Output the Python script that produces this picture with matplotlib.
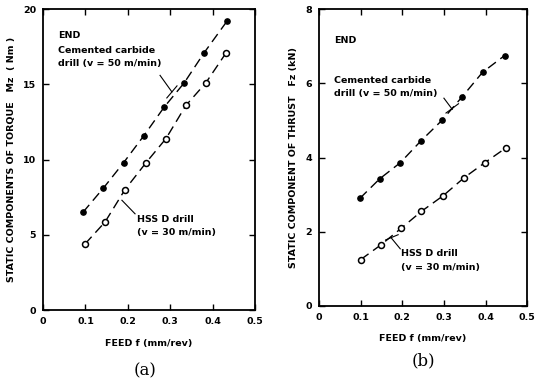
import matplotlib.pyplot as plt

# torque data (a)
feed_cc_a = [0.094, 0.142, 0.19, 0.238, 0.286, 0.333, 0.38, 0.434]
torque_cc = [6.5, 8.1, 9.8, 11.6, 13.5, 15.1, 17.1, 19.2]
feed_hss_a = [0.099, 0.146, 0.193, 0.243, 0.29, 0.337, 0.384, 0.432]
torque_hss = [4.4, 5.85, 8.0, 9.8, 11.4, 13.6, 15.1, 17.1]

# thrust data (b)
feed_cc_b = [0.098, 0.146, 0.195, 0.244, 0.295, 0.344, 0.393, 0.446]
thrust_cc = [2.9, 3.43, 3.86, 4.44, 5.0, 5.64, 6.3, 6.75]
feed_hss_b = [0.1, 0.149, 0.198, 0.246, 0.298, 0.349, 0.398, 0.449]
thrust_hss = [1.25, 1.65, 2.1, 2.55, 2.97, 3.46, 3.86, 4.26]

xticks = [0, 0.1, 0.2, 0.3, 0.4, 0.5]
xticklabels = ['0', '0.1', '0.2', '0.3', '0.4', '0.5']

fs = 6.8
fw = 'bold'

fig = plt.figure(figsize=(5.39, 3.81), dpi=100)
ax1 = fig.add_axes([0.080, 0.186, 0.393, 0.790])
ax2 = fig.add_axes([0.592, 0.197, 0.386, 0.779])

dash = (0, (7, 4))

def style(ax, ymax, yticks):
    ax.set_xlim(0, 0.5)
    ax.set_ylim(0, ymax)
    ax.set_xticks(xticks)
    ax.set_xticklabels(xticklabels)
    ax.set_yticks(yticks)
    ax.tick_params(direction='in', top=True, right=True, length=4.5, width=1,
                   labelsize=fs, pad=5)
    for lab in ax.get_xticklabels() + ax.get_yticklabels():
        lab.set_fontweight(fw)
    for s in ax.spines.values():
        s.set_linewidth(1.3)
    ax.set_xlabel('FEED f (mm/rev)', fontsize=fs, fontweight=fw, labelpad=9)

# (a)
ax1.plot(feed_cc_a, torque_cc, color='black', ls=dash, lw=1, marker='o', ms=3.8,
         mfc='black', mec='black')
ax1.plot(feed_hss_a, torque_hss, color='black', ls=dash, lw=1, marker='o', ms=4.3,
         mfc='white', mec='black', mew=1.1)
style(ax1, 20, [0, 5, 10, 15, 20])
ax1.set_ylabel('STATIC COMPONENTS OF TORQUE   Mz  ( Nm )', fontsize=fs, fontweight=fw, labelpad=5)
ax1.text(0.035, 18.1, 'END', fontsize=fs, fontweight=fw)
ax1.text(0.035, 16.2, 'Cemented carbide\ndrill (v = 50 m/min)', fontsize=fs,
         fontweight=fw, linespacing=1.6)
ax1.plot([0.276, 0.304], [15.6, 14.5], color='black', lw=0.8)
ax1.plot([0.292, 0.316], [14.1, 14.9], color='black', lw=0.8)
ax1.plot([0.186, 0.217], [7.3, 6.4], color='black', lw=0.8)
ax1.text(0.222, 5.0, 'HSS D drill\n(v = 30 m/min)', fontsize=fs, fontweight=fw,
         linespacing=1.6)
fig.text(0.269, 0.015, '(a)', fontsize=12, family='DejaVu Serif', ha='center')

# (b)
ax2.plot(feed_cc_b, thrust_cc, color='black', ls=dash, lw=1, marker='o', ms=3.8,
         mfc='black', mec='black')
ax2.plot(feed_hss_b, thrust_hss, color='black', ls=dash, lw=1, marker='o', ms=4.3,
         mfc='white', mec='black', mew=1.1)
style(ax2, 8, [0, 2, 4, 6, 8])
ax2.set_ylabel('STATIC COMPONENT OF THRUST   Fz (kN)', fontsize=fs, fontweight=fw, labelpad=5)
ax2.text(0.037, 7.1, 'END', fontsize=fs, fontweight=fw)
ax2.text(0.037, 5.65, 'Cemented carbide\ndrill (v = 50 m/min)', fontsize=fs,
         fontweight=fw, linespacing=1.6)
ax2.plot([0.30, 0.32], [5.6, 5.3], color='black', lw=0.8)
ax2.plot([0.305, 0.335], [5.2, 5.45], color='black', lw=0.8)
ax2.plot([0.173, 0.195], [1.84, 1.54], color='black', lw=0.8)
ax2.plot([0.16, 0.19], [1.78, 1.92], color='black', lw=0.8)
ax2.text(0.198, 0.98, 'HSS D drill\n(v = 30 m/min)', fontsize=fs, fontweight=fw,
         linespacing=1.6)
fig.text(0.785, 0.04, '(b)', fontsize=12, family='DejaVu Serif', ha='center')

plt.savefig('out.png', dpi=100)
